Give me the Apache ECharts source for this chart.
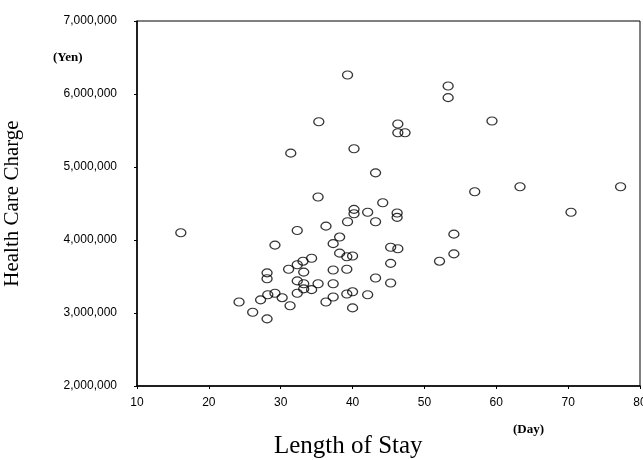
<!DOCTYPE html>
<html>
<head>
<meta charset="utf-8">
<script src="https://cdn.jsdelivr.net/npm/echarts@6/dist/echarts.min.js"></script>
<style>
  html, body { margin: 0; padding: 0; background: #fff; }
  #chart { width: 643px; height: 460px; }
</style>
</head>
<body>
<div id="chart"></div>
<script>
// length of stay (days) and health care charge (yen)
const stayDays = [
  39.3, 53.3, 53.3, 35.3, 46.3, 46.3, 47.3, 31.4, 40.2, 43.2,
  35.2, 44.2, 40.2, 40.2, 42.1, 46.2, 46.2, 39.3, 43.2, 36.3,
  32.3, 59.4, 63.3, 77.3, 57.0, 70.4, 16.1, 29.2, 38.2, 37.3,
  38.2, 39.2, 40.0, 34.3, 33.1, 32.3, 31.1, 33.2, 37.3, 39.2,
  28.1, 28.1, 32.3, 33.2, 33.2, 34.3, 35.2, 37.3, 32.3, 29.2,
  28.2, 27.2, 30.2, 31.3, 24.2, 26.1, 28.1, 36.3, 37.3, 39.2,
  40.0, 42.1, 40.0, 43.2, 54.1, 54.1, 52.1, 45.3, 46.3, 45.3,
  45.3
];
const chargeYen = [
  6260000, 6110000, 5950000, 5620000, 5590000, 5470000, 5470000, 5190000, 5250000, 4920000,
  4590000, 4510000, 4420000, 4360000, 4380000, 4370000, 4310000, 4250000, 4250000, 4190000,
  4130000, 5630000, 4730000, 4730000, 4660000, 4380000, 4100000, 3930000, 4040000, 3950000,
  3820000, 3770000, 3780000, 3750000, 3710000, 3660000, 3600000, 3560000, 3590000, 3600000,
  3550000, 3470000, 3440000, 3400000, 3330000, 3320000, 3400000, 3400000, 3270000, 3270000,
  3250000, 3180000, 3210000, 3100000, 3150000, 3010000, 2920000, 3150000, 3220000, 3260000,
  3290000, 3250000, 3070000, 3480000, 4080000, 3810000, 3710000, 3900000, 3880000, 3680000,
  3410000
];

const points = stayDays.map((d, i) => [d, chargeYen[i]]);

const serif = "'Liberation Serif', 'Times New Roman', serif";
const sans = "'Liberation Sans', Arial, sans-serif";

const chart = echarts.init(document.getElementById('chart'));

chart.setOption({
  animation: false,
  backgroundColor: '#fff',
  grid: {
    left: 137, right: 3, top: 21, bottom: 74,
    outerBoundsMode: 'none',  // keep the plot box where the scan has it
    show: true, borderColor: '#000', borderWidth: 1
  },
  xAxis: {
    type: 'value',
    min: 10, max: 80, interval: 10,
    axisLine: { lineStyle: { color: '#000', width: 1.5 } },
    axisTick: { length: 3, lineStyle: { color: '#000' } },
    axisLabel: { fontFamily: sans, fontSize: 12, color: '#000', margin: 11 },
    splitLine: { show: false }
  },
  yAxis: {
    type: 'value',
    min: 2000000, max: 7000000, interval: 1000000,
    name: 'Health Care Charge',
    nameLocation: 'middle',
    nameGap: 114,
    nameTextStyle: { fontFamily: serif, fontSize: 21, color: '#000' },
    axisLine: { lineStyle: { color: '#000', width: 1.5 } },
    axisTick: { length: 3, lineStyle: { color: '#000' } },
    axisLabel: {
      fontFamily: sans, fontSize: 12, color: '#000', margin: 20,
      formatter: v => v.toLocaleString('en-US')
    },
    splitLine: { show: false }
  },
  graphic: [
    {
      type: 'text', left: 53, top: 51,
      style: { text: '(Yen)', font: "bold 13px " + serif, fill: '#000' }
    },
    {
      type: 'text', left: 513, top: 423,
      style: { text: '(Day)', font: "bold 13px " + serif, fill: '#000' }
    },
    {
      type: 'text', left: 274, top: 434,
      style: { text: 'Length of Stay', font: "25px " + serif, fill: '#000' }
    }
  ],
  series: [{
    type: 'scatter',
    data: points,
    symbol: 'circle',
    symbolSize: [10, 8],
    itemStyle: { color: 'rgba(255,255,255,0)', borderColor: '#000', borderWidth: 1.2 }
  }]
});
</script>
</body>
</html>
